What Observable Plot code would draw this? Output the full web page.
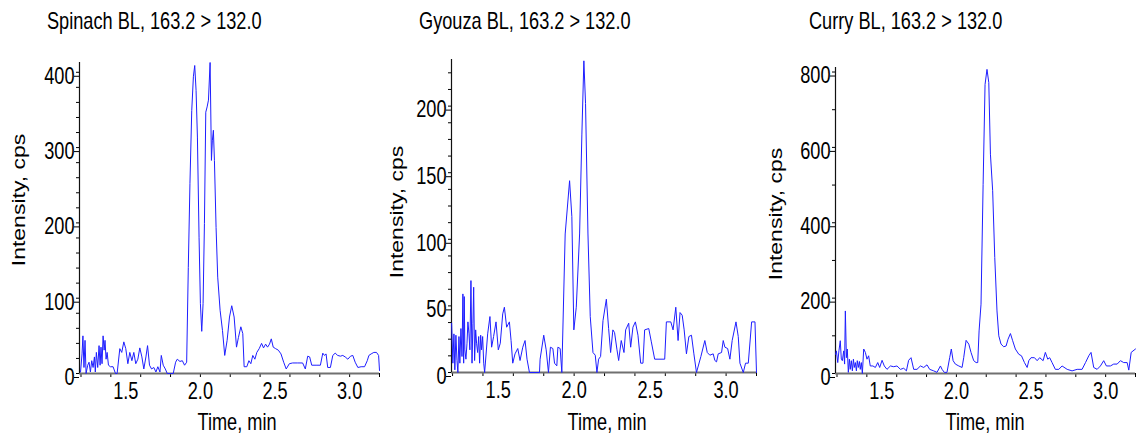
<!DOCTYPE html>
<html>
<head>
<meta charset="utf-8">
<script src="https://cdn.jsdelivr.net/npm/d3@7"></script>
<script src="https://cdn.jsdelivr.net/npm/@observablehq/plot@0.6"></script>
<style>
  body { margin: 0; background: #fff; }
  #wrap { position: relative; width: 1137px; height: 439px; overflow: hidden; background: #fff; }
  .panel { position: absolute; top: 0; }
  #labels { position: absolute; left: 0; top: 0; pointer-events: none; }
</style>
</head>
<body>
<div id="wrap"></div>
<script>
// MRM chromatograms, transition 163.2 > 132.0, three blank matrices

const titles = ["Spinach BL, 163.2 > 132.0", "Gyouza BL, 163.2 > 132.0", "Curry BL, 163.2 > 132.0"];
const xLabel = "Time, min";
const yLabel = "Intensity, cps";

const xMinorTicks = [1.2, 1.4, 1.6, 1.8, 2.0, 2.2, 2.4, 2.6, 2.8, 3.0, 3.2];
const xLabelTicks = [1.5, 2.0, 2.5, 3.0];

const spinachYTicks = [0, 100, 200, 300, 400];
const gyouzaYTicks = [0, 50, 100, 150, 200];
const curryYTicks = [0, 200, 400, 600, 800];

const spinachTime = [1.197,1.207,1.213,1.220,1.227,1.234,1.245,1.254,1.263,1.272,
  1.281,1.290,1.296,1.303,1.312,1.321,1.328,1.334,1.341,1.348,
  1.355,1.361,1.368,1.375,1.384,1.397,1.415,1.431,1.442,1.460,
  1.473,1.487,1.500,1.514,1.527,1.541,1.554,1.567,1.581,1.594,
  1.608,1.621,1.635,1.646,1.659,1.673,1.688,1.702,1.715,1.729,
  1.738,1.751,1.765,1.778,1.800,1.818,1.834,1.845,1.863,1.879,
  1.894,1.908,1.919,1.930,1.942,1.953,1.962,1.971,1.980,1.991,
  2.000,2.009,2.018,2.027,2.036,2.045,2.054,2.065,2.074,2.080,
  2.087,2.094,2.105,2.116,2.132,2.148,2.163,2.179,2.195,2.210,
  2.226,2.242,2.255,2.271,2.284,2.293,2.311,2.325,2.338,2.351,
  2.365,2.378,2.394,2.410,2.423,2.437,2.450,2.463,2.475,2.488,
  2.504,2.522,2.540,2.558,2.575,2.596,2.618,2.652,2.685,2.703,
  2.719,2.732,2.746,2.775,2.804,2.820,2.831,2.842,2.853,2.871,
  2.887,2.903,2.920,2.938,2.954,2.970,2.988,3.006,3.021,3.037,
  3.055,3.077,3.100,3.118,3.129,3.144,3.162,3.180,3.194,3.200];
const spinachCps = [2,26,50,8,44,0,11,15,2,17,
  8,22,2,28,8,37,11,35,13,50,
  31,44,19,28,11,9,9,0,0,33,
  28,42,33,13,28,17,28,13,19,34,
  22,6,22,37,11,6,8,2,9,2,
  24,11,6,0,0,0,15,19,16,17,
  11,15,141,252,349,394,409,376,314,181,
  93,56,93,199,347,354,363,413,283,309,
  323,283,194,128,84,57,24,44,75,90,
  75,35,48,62,53,9,9,17,13,24,
  19,28,33,40,34,39,35,39,46,35,
  33,31,26,15,6,13,14,14,14,6,
  23,22,11,11,11,27,24,26,8,8,
  24,27,24,23,24,22,19,23,24,15,
  8,9,9,17,24,26,28,28,24,4];

const gyouzaTime = [1.194,1.202,1.209,1.215,1.222,1.229,1.235,1.242,1.248,1.255,
  1.262,1.268,1.273,1.277,1.281,1.288,1.295,1.301,1.308,1.314,
  1.321,1.328,1.334,1.339,1.345,1.352,1.358,1.365,1.372,1.378,
  1.385,1.391,1.398,1.405,1.411,1.431,1.446,1.457,1.470,1.486,
  1.501,1.514,1.530,1.541,1.556,1.574,1.585,1.596,1.611,1.629,
  1.644,1.662,1.677,1.690,1.706,1.772,1.776,1.800,1.816,1.831,
  1.844,1.860,1.871,1.886,1.893,1.908,1.919,1.941,1.970,1.985,
  1.998,2.014,2.036,2.051,2.064,2.075,2.091,2.106,2.124,2.139,
  2.150,2.161,2.174,2.190,2.212,2.227,2.240,2.255,2.266,2.282,
  2.293,2.310,2.328,2.339,2.359,2.372,2.387,2.403,2.420,2.438,
  2.453,2.464,2.491,2.508,2.530,2.552,2.596,2.607,2.636,2.651,
  2.669,2.684,2.697,2.711,2.724,2.739,2.755,2.772,2.788,2.805,
  2.834,2.860,2.876,2.893,2.915,2.926,2.937,2.948,2.970,2.981,
  2.992,3.010,3.025,3.040,3.065,3.080,3.091,3.113,3.128,3.146,
  3.168,3.190,3.200];
const gyouzaCps = [37,7,29,2,28,9,0,27,7,33,
  12,59,7,57,17,10,22,38,29,17,
  69,7,37,64,9,32,22,15,27,7,
  28,17,27,7,0,29,42,19,27,38,
  17,22,44,49,34,38,24,7,14,18,
  9,19,24,10,0,0,10,28,17,0,
  19,18,7,5,19,18,0,104,144,117,
  32,49,104,179,234,202,104,42,15,13,
  0,10,12,39,55,33,15,32,30,17,
  9,24,15,32,37,19,34,38,28,7,
  7,32,33,23,10,10,10,38,38,32,
  49,24,45,43,32,14,27,28,14,0,
  12,24,15,13,14,9,8,14,15,24,
  19,18,10,24,38,27,7,0,7,7,
  38,38,0];

const curryTime = [1.191,1.196,1.205,1.213,1.222,1.229,1.236,1.245,1.251,1.256,
  1.263,1.269,1.276,1.283,1.289,1.296,1.303,1.310,1.316,1.323,
  1.330,1.336,1.343,1.350,1.356,1.363,1.370,1.379,1.390,1.401,
  1.412,1.423,1.441,1.457,1.473,1.486,1.502,1.517,1.535,1.558,
  1.580,1.602,1.625,1.647,1.665,1.680,1.696,1.714,1.736,1.759,
  1.781,1.803,1.821,1.848,1.870,1.893,1.904,1.919,1.937,1.955,
  1.966,1.978,1.993,2.016,2.038,2.049,2.065,2.083,2.098,2.116,
  2.132,2.143,2.152,2.165,2.179,2.192,2.205,2.217,2.228,2.243,
  2.257,2.272,2.284,2.299,2.317,2.333,2.346,2.362,2.377,2.395,
  2.418,2.436,2.456,2.474,2.485,2.500,2.523,2.541,2.558,2.581,
  2.596,2.612,2.625,2.641,2.663,2.686,2.708,2.742,2.775,2.809,
  2.842,2.865,2.887,2.902,2.920,2.943,2.965,2.987,3.005,3.032,
  3.054,3.077,3.099,3.121,3.144,3.155,3.171,3.200];
const curryCps = [51,60,29,60,87,38,34,60,25,166,
  42,65,3,38,11,34,7,38,16,29,
  7,34,16,32,11,29,0,65,56,38,
  47,20,20,16,29,16,35,20,11,20,
  18,20,11,14,7,35,42,11,11,20,
  16,23,11,7,3,20,11,3,3,42,
  65,34,25,20,16,42,88,78,56,34,
  29,29,113,184,502,767,807,772,582,485,
  308,166,100,78,71,73,91,106,87,65,
  51,47,29,16,34,42,42,34,42,34,
  56,38,42,29,11,11,20,11,7,11,
  11,29,47,56,16,11,20,34,20,20,
  25,25,34,29,29,9,56,65];

// Horizontal squeeze of the text, giving the tall narrow look of the instrument software
const SQUEEZE = 0.79;
const FONT = "'Liberation Sans', Arial, sans-serif";
const FONT_SIZE = 23;

const panels = [
  {time: spinachTime, cps: spinachCps, yTicks: spinachYTicks, yMax: 413, yMinorStep: 20, xMin: 1.19,
   left: 0, width: 380, ml: 79, mr: 1, mt: 62, mb: 66,
   titleX: 47, xLabelX: 237, yLabelX: 25, yLabelY: 200},
  {time: gyouzaTime, cps: gyouzaCps, yTicks: gyouzaYTicks, yMax: 235, yMinorStep: 12.5, xMin: 1.193,
   left: 380, width: 378, ml: 71, mr: 2, mt: 59, mb: 67,
   titleX: 419, xLabelX: 607, yLabelX: 403, yLabelY: 212},
  {time: curryTime, cps: curryCps, yTicks: curryYTicks, yMax: 812, yMinorStep: 100, xMin: 1.19,
   left: 757, width: 380, ml: 78, mr: 2, mt: 67, mb: 66,
   titleX: 809, xLabelX: 985, yLabelX: 782, yLabelY: 214}
];

const wrap = document.getElementById("wrap");

panels.forEach(p => {
  const rows = p.time.map((t, i) => ({t, v: p.cps[i]}));
  const yMinor = d3.range(0, p.yMax + 1e-9, p.yMinorStep);
  const chart = Plot.plot({
    width: p.width,
    height: 439,
    marginLeft: p.ml,
    marginRight: p.mr,
    marginTop: p.mt,
    marginBottom: p.mb,
    x: {domain: [p.xMin, 3.2]},
    y: {domain: [0, p.yMax]},
    style: {fontFamily: FONT, fontSize: FONT_SIZE + "px", color: "#000", background: "transparent", overflow: "visible"},
    marks: [
      Plot.axisX({ticks: xMinorTicks, tickSize: 4, tickFormat: () => "", label: null}),
      Plot.axisX({ticks: xLabelTicks, tickSize: 0, tickPadding: 9, tickFormat: d => d.toFixed(1), label: null}),
      Plot.axisY({ticks: yMinor, tickSize: 3, tickFormat: () => "", label: null}),
      Plot.axisY({ticks: p.yTicks, tickSize: 5, tickPadding: 0, dy: 4, tickFormat: d => String(d), label: null}),
      Plot.ruleY([0], {stroke: "#707070", strokeWidth: 2}),
      Plot.ruleX([p.xMin], {stroke: "#111", strokeWidth: 1.2}),
      Plot.line(rows, {x: "t", y: "v", stroke: "#1e1eff", strokeWidth: 1})
    ]
  });
  chart.classList.add("panel");
  chart.style.left = p.left + "px";
  chart.querySelectorAll("text").forEach(t => {
    const tr = t.getAttribute("transform") || "";
    t.setAttribute("transform", `${tr} scale(${SQUEEZE},1)`);
  });
  wrap.appendChild(chart);
});

// Titles and axis titles
const overlay = d3.create("svg")
  .attr("id", "labels")
  .attr("width", 1137)
  .attr("height", 439)
  .attr("font-family", FONT)
  .attr("font-size", FONT_SIZE)
  .attr("fill", "#000");

panels.forEach((p, i) => {
  overlay.append("text")
    .attr("transform", `translate(${p.titleX},28.5) scale(${SQUEEZE},1)`)
    .text(titles[i]);
  overlay.append("text")
    .attr("text-anchor", "middle")
    .attr("transform", `translate(${p.xLabelX},430) scale(${SQUEEZE},1)`)
    .text(xLabel);
  overlay.append("text")
    .attr("text-anchor", "middle")
    .attr("transform", `translate(${p.yLabelX},${p.yLabelY}) scale(${SQUEEZE},1) rotate(-90)`)
    .text(yLabel);
});

wrap.appendChild(overlay.node());
</script>
</body>
</html>
